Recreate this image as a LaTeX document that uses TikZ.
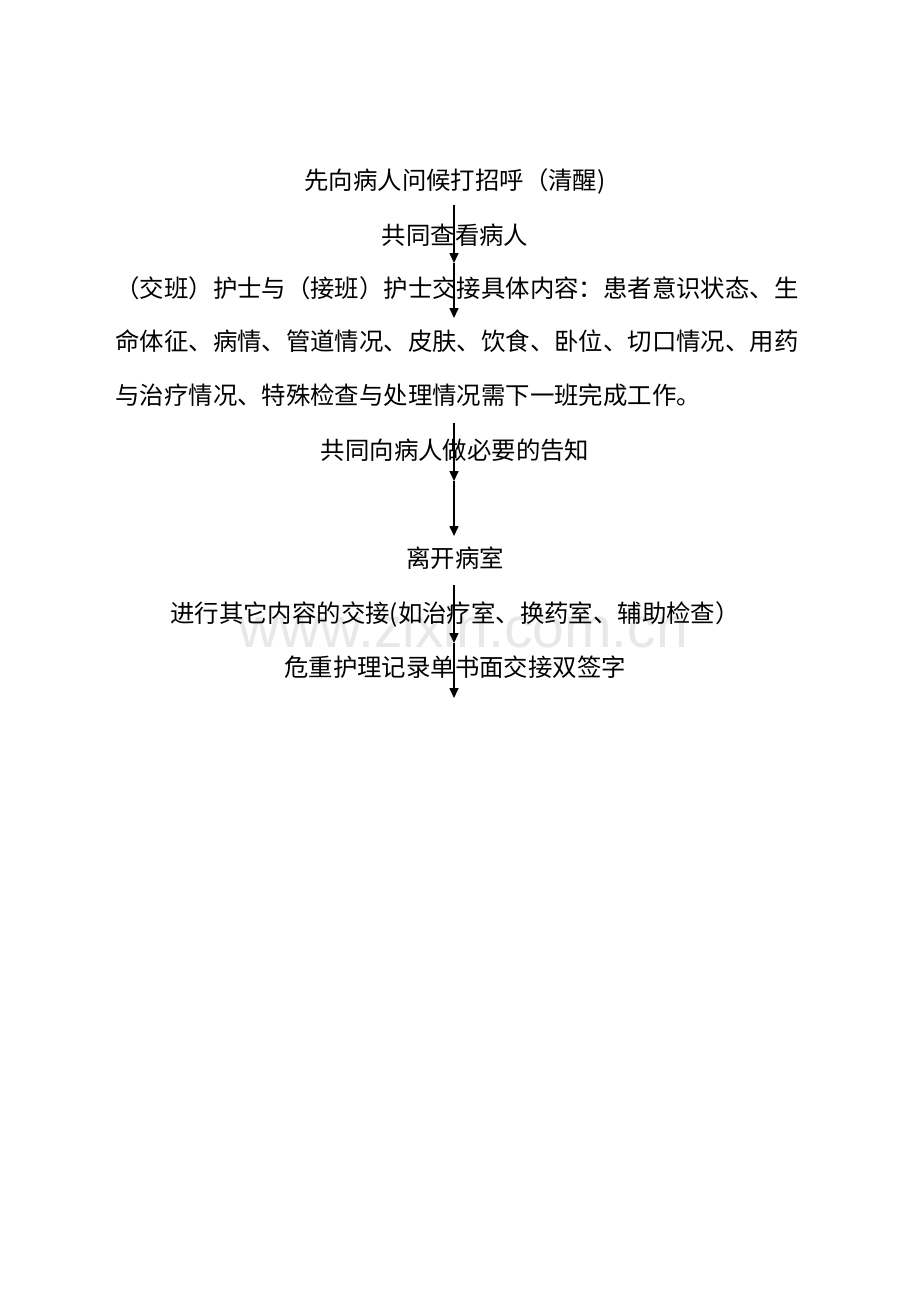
\documentclass[tikz,border=0pt]{standalone}
\usepackage{fontspec}
\setmainfont{Noto Sans CJK SC}
\newfontfamily\wmfont{Liberation Sans}
\usetikzlibrary{arrows.meta}

\begin{document}
\begin{tikzpicture}[x=0.5pt,y=-0.5pt,
        base/.style={inner sep=0pt,font=\fontsize{12.2pt}{14pt}\selectfont},
        stage/.style={base,anchor=base},
        para/.style={base,anchor=base west},
        flow/.style={line width=0.8pt,-{Triangle[length=5pt,width=4.5pt]}},
        watermark/.style={inner sep=0pt,anchor=base,text=black!9,
            font=\wmfont\fontsize{28.5pt}{30pt}\selectfont}]
    \useasboundingbox (0,0) rectangle (920,1302);
    % Watermark
    \node[watermark] (wm) at (463,647) {www.zixin.com.cn};
    % Steps
    \node[stage] (greet) at (455,189) {先向病人问候打招呼（清醒)};
    \node[stage] (check) at (455,244) {共同查看病人};
    \node[para] (hand1) at (115,297) {（交班）护士与（接班）护士交接具体内容：患者意识状态、生};
    \node[para] (hand2) at (115,350) {命体征、病情、管道情况、皮肤、饮食、卧位、切口情况、用药};
    \node[para] (hand3) at (115,404) {与治疗情况、特殊检查与处理情况需下一班完成工作。};
    \node[stage] (inform) at (455,459) {共同向病人做必要的告知};
    \node[stage] (leave) at (455,567) {离开病室};
    \node[stage] (other) at (455,622) {进行其它内容的交接(如治疗室、换药室、辅助检查）};
    \node[stage] (sign) at (455,676) {危重护理记录单书面交接双签字};
    % Arrow stops
    \coordinate (a1) at (454,205);
    \coordinate (a2) at (454,263);
    \coordinate (a3) at (454,318);
    \coordinate (b1) at (454,423);
    \coordinate (b2) at (454,481);
    \coordinate (b3) at (454,536);
    \coordinate (c1) at (454,585);
    \coordinate (c2) at (454,643);
    \coordinate (c3) at (454,698);
    % Arrows
    \foreach \s/\t in {a1/a2,a2/a3,b1/b2,b2/b3,c1/c2,c2/c3}
        \draw[flow] (\s) -- (\t);
\end{tikzpicture}
\end{document}
